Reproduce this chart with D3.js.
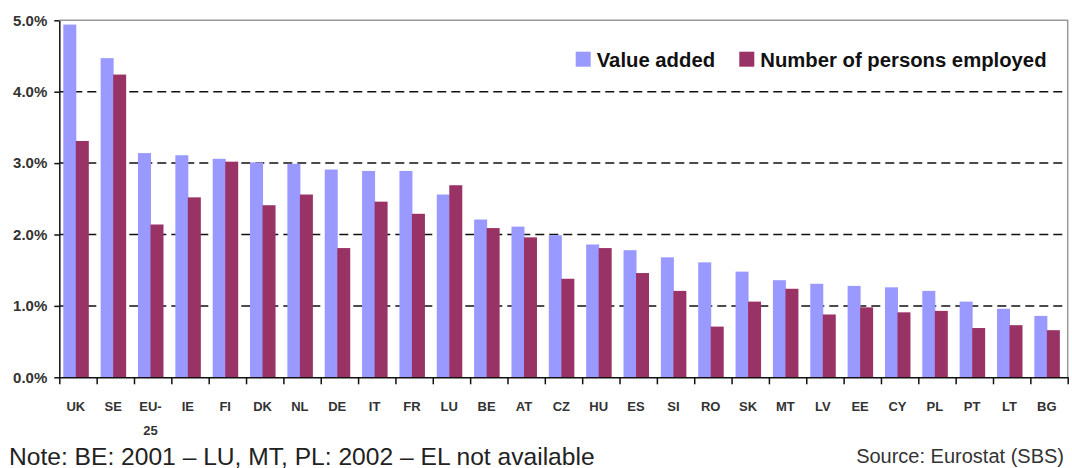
<!DOCTYPE html>
<html>
<head>
<meta charset="utf-8">
<script src="https://cdn.jsdelivr.net/npm/d3@7"></script>
<style>
  body { margin: 0; background: #fff; }
  text { font-family: Arial, "Liberation Sans", sans-serif; }
</style>
</head>
<body>
<div class="chart"></div>
<script>
// countries, sorted by value added share
let countries = ["UK", "SE", "EU-25", "IE", "FI", "DK", "NL", "DE", "IT", "FR", "LU", "BE", "AT", "CZ",
  "HU", "ES", "SI", "RO", "SK", "MT", "LV", "EE", "CY", "PL", "PT", "LT", "BG"];

// share of value added (%)
let valueAdded = [4.94, 4.47, 3.14, 3.11, 3.06, 3.01, 2.99, 2.91, 2.89, 2.89, 2.56, 2.21, 2.11, 1.99,
  1.86, 1.78, 1.68, 1.61, 1.48, 1.36, 1.31, 1.28, 1.26, 1.21, 1.06, 0.96, 0.86];

// share of persons employed (%)
let employed = [3.31, 4.24, 2.14, 2.52, 3.02, 2.41, 2.56, 1.81, 2.46, 2.29, 2.69, 2.09, 1.96, 1.38,
  1.81, 1.46, 1.21, 0.71, 1.06, 1.24, 0.88, 0.98, 0.91, 0.93, 0.69, 0.73, 0.66];

let seriesNames = ["Value added", "Number of persons employed"];
let seriesColors = ["#9999ff", "#993366"];
let yTicks = [0, 1, 2, 3, 4, 5];

let svgW = 1072;
let svgH = 468;

let margin = { top: 20.3, right: 4.3, bottom: 90.7, left: 59.3 };
let width = svgW - margin.left - margin.right;
let height = svgH - margin.top - margin.bottom;

let svg = d3.select(".chart")
  .append("svg")
  .attr("width", svgW)
  .attr("height", svgH);

let chartGroup = svg.append("g")
  .attr("transform", `translate(${margin.left}, ${margin.top})`);

// scales
let x = d3.scaleBand()
  .domain(countries)
  .range([0, width]);

// the pair of bars sits a bit left of the band centre
let xSub = d3.scaleBand()
  .domain(seriesNames)
  .range([4, 29]);

let y = d3.scaleLinear()
  .domain([0, 5])
  .range([height, 0]);

// dashed gridlines (not at 0 and 5)
chartGroup.selectAll(".grid")
  .data(yTicks.filter(d => d > 0 && d < 5))
  .enter()
  .append("line")
  .attr("x1", 0)
  .attr("x2", width)
  .attr("y1", d => y(d))
  .attr("y2", d => y(d))
  .attr("stroke", "#111")
  .attr("stroke-width", 1.5)
  .attr("stroke-dasharray", "9,5");

// frame top and right
chartGroup.append("path")
  .attr("d", `M0,${y(5)}H${width}V${y(0)}`)
  .attr("fill", "none")
  .attr("stroke", "#999")
  .attr("stroke-width", 1.5);

// bars
let rows = countries.map((c, i) => ({ country: c, values: [valueAdded[i], employed[i]] }));

let groups = chartGroup.selectAll(".country")
  .data(rows)
  .enter()
  .append("g")
  .attr("transform", d => `translate(${x(d.country)},0)`);

groups.selectAll("rect")
  .data(d => d.values.map((v, k) => ({ name: seriesNames[k], value: v, color: seriesColors[k] })))
  .enter()
  .append("rect")
  .attr("x", d => xSub(d.name))
  .attr("y", d => y(d.value))
  .attr("width", xSub.bandwidth() + 0.5)
  .attr("height", d => y(0) - y(d.value))
  .attr("fill", d => d.color);

// y axis
let leftAxis = d3.axisLeft(y)
  .tickValues(yTicks)
  .tickFormat(d => d.toFixed(1) + "%")
  .tickSize(5)
  .tickSizeOuter(0)
  .tickPadding(7);

let yAxis = chartGroup.append("g").call(leftAxis);
yAxis.select(".domain").attr("stroke", "#111").attr("stroke-width", 1.5);
yAxis.selectAll(".tick line").attr("stroke", "#111").attr("stroke-width", 1.5);
yAxis.selectAll(".tick text")
  .style("font-family", "Arial, 'Liberation Sans', sans-serif")
  .style("font-size", "15px")
  .style("font-weight", "bold")
  .attr("fill", "#333");

// x axis: line plus ticks at band boundaries
let bounds = d3.range(countries.length + 1);
let xb = d3.scaleLinear().domain([0, countries.length]).range([0, width]);

let bottomAxis = d3.axisBottom(xb)
  .tickValues(bounds)
  .tickFormat("")
  .tickSize(7)
  .tickSizeOuter(0);

let xAxis = chartGroup.append("g")
  .attr("transform", `translate(0, ${height})`)
  .call(bottomAxis);
xAxis.select(".domain").attr("stroke", "#111").attr("stroke-width", 1.5);
xAxis.selectAll(".tick line").attr("stroke", "#111").attr("stroke-width", 1.5);

// category labels, wrapped after the hyphen
let labelX = d => x(d) + (xSub.range()[0] + xSub.range()[1]) / 2;
let labels = chartGroup.selectAll(".xlab")
  .data(countries)
  .enter()
  .append("text")
  .attr("text-anchor", "middle")
  .attr("y", height + 33.7)
  .style("font-size", "13px")
  .style("font-weight", "bold")
  .attr("fill", "#333");

labels.each(function(d) {
  let parts = d.includes("-") ? [d.split("-")[0] + "-", d.split("-")[1]] : [d];
  d3.select(this).selectAll("tspan")
    .data(parts)
    .enter()
    .append("tspan")
    .attr("x", labelX(d))
    .attr("dy", (p, k) => k === 0 ? 0 : 24)
    .text(p => p);
});

// legend
let legend = svg.append("g").attr("transform", "translate(575.7, 51.7)");
let legendX = [0, 163.6];
seriesNames.forEach(function(name, k) {
  legend.append("rect")
    .attr("x", legendX[k])
    .attr("y", 0)
    .attr("width", 15)
    .attr("height", 15)
    .attr("fill", seriesColors[k]);
  legend.append("text")
    .attr("x", legendX[k] + 21)
    .attr("y", 15)
    .style("font-size", "20.3px")
    .style("font-weight", "bold")
    .attr("fill", "#111")
    .text(name);
});

// notes under the chart
svg.append("text")
  .attr("x", 9)
  .attr("y", 464.5)
  .style("font-size", "24.6px")
  .attr("fill", "#222")
  .text("Note: BE: 2001 \u2013 LU, MT, PL: 2002 \u2013 EL not available");

svg.append("text")
  .attr("x", 1064)
  .attr("y", 463)
  .attr("text-anchor", "end")
  .style("font-size", "20px")
  .attr("fill", "#333")
  .text("Source: Eurostat (SBS)");
</script>
</body>
</html>
